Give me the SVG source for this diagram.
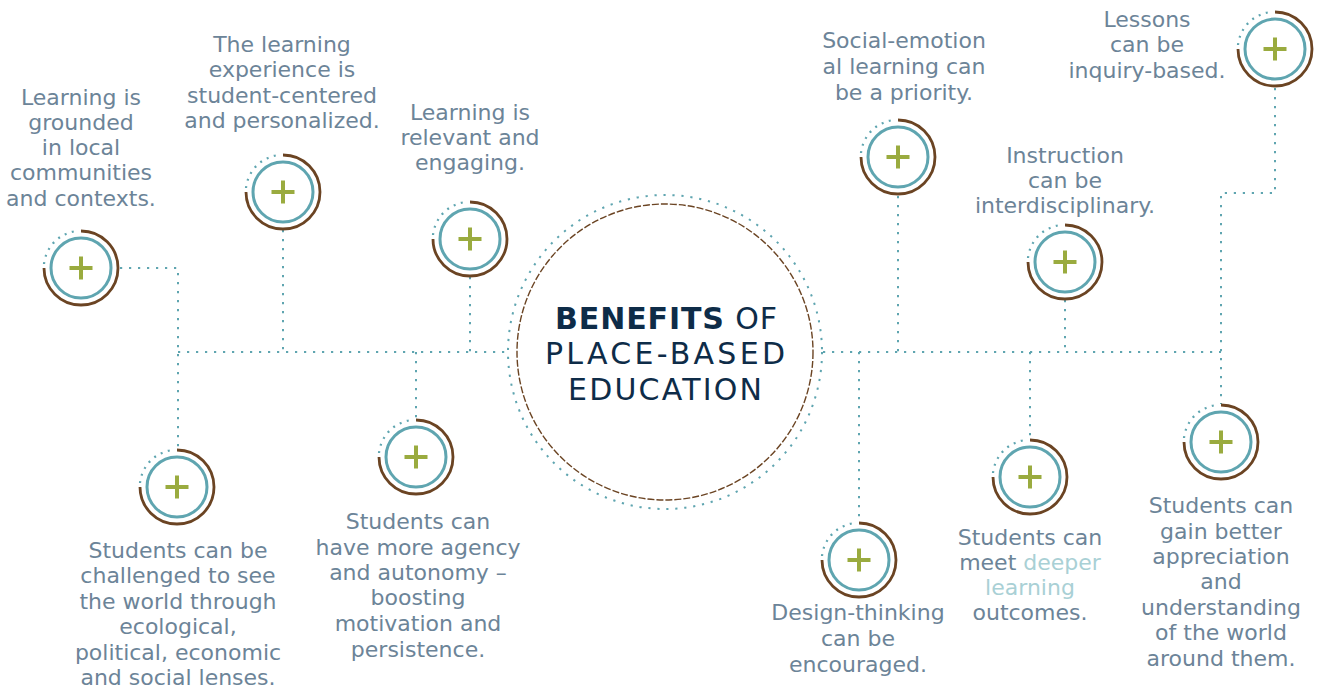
<svg xmlns="http://www.w3.org/2000/svg" xmlns:xlink="http://www.w3.org/1999/xlink" width="1317" height="689" viewBox="0 0 1317 689">
<style>
.lbl{font-family:"DejaVu Sans","Liberation Sans",sans-serif;font-size:22px;fill:#6c8498;text-anchor:middle}
.hl{fill:#a9d0d5}
.dot{fill:none;stroke:#5fa5b0;stroke-width:2;stroke-dasharray:2.2 6.8}
.title{font-family:"DejaVu Sans","Liberation Sans",sans-serif;font-size:30px;fill:#0e2c48;text-anchor:middle}
</style>
<defs>
<g id="icon">
<path d="M0,-37 A37,37 0 1,1 -37,0" fill="none" stroke="#6b4423" stroke-width="2.8"/>
<path d="M-37,-4 A37,37 0 0,1 -4,-37" fill="none" stroke="#5fa5b0" stroke-width="2.2" stroke-dasharray="2 5.5"/>
<circle r="30" fill="#fff" stroke="#5fa5b0" stroke-width="3"/>
<path d="M-11.5,0 H11.5 M0,-11.5 V11.5" stroke="#9aab3f" stroke-width="4"/>
</g>
</defs>
<rect width="1317" height="689" fill="#fff"/>
<g id="connectors">
<path class="dot" d="M120,268 H178 V449"/>
<path class="dot" d="M178,352 H508"/>
<path class="dot" d="M283,230 V352"/>
<path class="dot" d="M470,277 V352"/>
<path class="dot" d="M416,352 V419"/>
<path class="dot" d="M823,352 H1221"/>
<path class="dot" d="M898,196 V352"/>
<path class="dot" d="M1065,300 V352"/>
<path class="dot" d="M1275,88 V193 H1221 V404"/>
<path class="dot" d="M859,352 V522"/>
<path class="dot" d="M1030,352 V439"/>
</g>
<g id="center">
<circle cx="665" cy="352" r="157" fill="#fff" class="dot"/>
<circle cx="665" cy="352" r="148" fill="none" stroke="#6b4423" stroke-width="1.4" stroke-dasharray="7 2"/>
<text class="title" x="666" y="329" textLength="222" lengthAdjust="spacing"><tspan font-weight="bold">BENEFITS</tspan> OF</text>
<text class="title" x="665" y="364" textLength="240" lengthAdjust="spacing">PLACE-BASED</text>
<text class="title" x="665" y="400" textLength="194" lengthAdjust="spacing">EDUCATION</text>
</g>
<g id="n1">
<use xlink:href="#icon" x="81" y="268"/>
<text class="lbl" x="81"><tspan x="81" y="105">Learning is</tspan><tspan x="81" y="130">grounded</tspan><tspan x="81" y="155">in local</tspan><tspan x="81" y="180">communities</tspan><tspan x="81" y="206">and contexts.</tspan></text>
</g>
<g id="n2">
<use xlink:href="#icon" x="283" y="192"/>
<text class="lbl"><tspan x="282" y="52">The learning</tspan><tspan x="282" y="77">experience is</tspan><tspan x="282" y="103">student-centered</tspan><tspan x="282" y="128">and personalized.</tspan></text>
</g>
<g id="n3">
<use xlink:href="#icon" x="470" y="239"/>
<text class="lbl"><tspan x="470" y="120">Learning is</tspan><tspan x="470" y="145">relevant and</tspan><tspan x="470" y="170">engaging.</tspan></text>
</g>
<g id="n4">
<use xlink:href="#icon" x="177" y="487"/>
<text class="lbl"><tspan x="178" y="558">Students can be</tspan><tspan x="178" y="583">challenged to see</tspan><tspan x="178" y="609">the world through</tspan><tspan x="178" y="634">ecological,</tspan><tspan x="178" y="660">political, economic</tspan><tspan x="178" y="685">and social lenses.</tspan></text>
</g>
<g id="n5">
<use xlink:href="#icon" x="416" y="457"/>
<text class="lbl"><tspan x="418" y="529">Students can</tspan><tspan x="418" y="555">have more agency</tspan><tspan x="418" y="580">and autonomy –</tspan><tspan x="418" y="605">boosting</tspan><tspan x="418" y="631">motivation and</tspan><tspan x="418" y="657">persistence.</tspan></text>
</g>
<g id="n6">
<use xlink:href="#icon" x="898" y="157"/>
<text class="lbl"><tspan x="904" y="48">Social-emotion</tspan><tspan x="904" y="74">al learning can</tspan><tspan x="904" y="100">be a priority.</tspan></text>
</g>
<g id="n7">
<use xlink:href="#icon" x="1065" y="262"/>
<text class="lbl"><tspan x="1065" y="163">Instruction</tspan><tspan x="1065" y="188">can be</tspan><tspan x="1065" y="213">interdisciplinary.</tspan></text>
</g>
<g id="n8">
<use xlink:href="#icon" x="1275" y="49"/>
<text class="lbl"><tspan x="1147" y="27">Lessons</tspan><tspan x="1147" y="52">can be</tspan><tspan x="1147" y="78">inquiry-based.</tspan></text>
</g>
<g id="n9">
<use xlink:href="#icon" x="859" y="560"/>
<text class="lbl"><tspan x="858" y="620">Design-thinking</tspan><tspan x="858" y="646">can be</tspan><tspan x="858" y="672">encouraged.</tspan></text>
</g>
<g id="n10">
<use xlink:href="#icon" x="1030" y="477"/>
<text class="lbl"><tspan x="1030" y="545">Students can</tspan><tspan x="1030" y="570">meet <tspan class="hl">deeper</tspan></tspan><tspan x="1030" y="595" class="hl">learning</tspan><tspan x="1030" y="620">outcomes.</tspan></text>
</g>
<g id="n11">
<use xlink:href="#icon" x="1221" y="442"/>
<text class="lbl"><tspan x="1221" y="513">Students can</tspan><tspan x="1221" y="539">gain better</tspan><tspan x="1221" y="564">appreciation</tspan><tspan x="1221" y="589">and</tspan><tspan x="1221" y="615">understanding</tspan><tspan x="1221" y="640">of the world</tspan><tspan x="1221" y="666">around them.</tspan></text>
</g>
</svg>
